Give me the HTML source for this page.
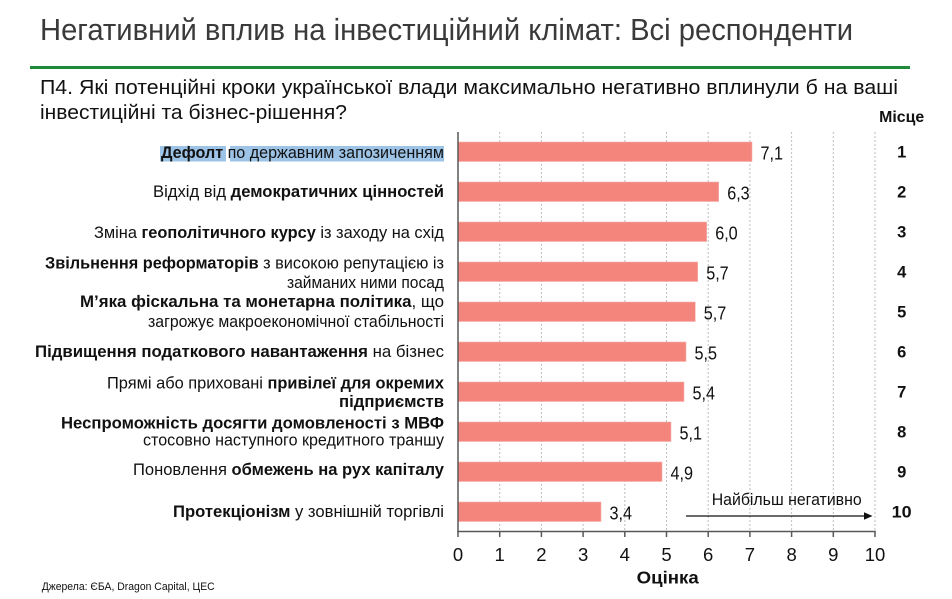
<!DOCTYPE html>
<html><head><meta charset="utf-8"><style>
html,body{margin:0;padding:0;background:#fff;}
svg{display:block;font-family:"Liberation Sans","DejaVu Sans",sans-serif;}
</style></head><body>
<svg width="952" height="599" viewBox="0 0 952 599" xmlns="http://www.w3.org/2000/svg">
<rect width="952" height="599" fill="#fff"/>
<text x="40" y="40" font-size="30.5" fill="#3a3a3a" textLength="813" lengthAdjust="spacingAndGlyphs">Негативний вплив на інвестиційний клімат: Всі респонденти</text>
<rect x="30" y="66" width="880" height="3" fill="#1e8b3c"/>
<text x="40" y="94" font-size="20.5" fill="#111" textLength="858" lengthAdjust="spacingAndGlyphs">П4. Які потенційні кроки української влади максимально негативно вплинули б на ваші</text>
<text x="40" y="119" font-size="20.5" fill="#111" textLength="307" lengthAdjust="spacingAndGlyphs">інвестиційні та бізнес-рішення?</text>
<text x="901.7" y="122" font-size="15.5" font-weight="bold" fill="#111" text-anchor="middle" textLength="45" lengthAdjust="spacingAndGlyphs">Місце</text>

<!-- gridlines -->
<g stroke="#bdbdbd" stroke-width="1" stroke-dasharray="2,2">
<line x1="499.7" y1="132" x2="499.7" y2="531"/>
<line x1="541.4" y1="132" x2="541.4" y2="531"/>
<line x1="583.1" y1="132" x2="583.1" y2="531"/>
<line x1="624.8" y1="132" x2="624.8" y2="531"/>
<line x1="666.5" y1="132" x2="666.5" y2="531"/>
<line x1="708.2" y1="132" x2="708.2" y2="531"/>
<line x1="749.9" y1="132" x2="749.9" y2="531"/>
<line x1="791.6" y1="132" x2="791.6" y2="531"/>
<line x1="833.3" y1="132" x2="833.3" y2="531"/>
<line x1="875" y1="132" x2="875" y2="531"/>
</g>

<!-- highlight -->
<rect x="160" y="146" width="66" height="15.5" fill="#9dc3e6"/>
<rect x="230" y="146" width="214" height="15.5" fill="#9dc3e6"/>

<!-- labels -->
<g font-size="16.3" fill="#111" text-anchor="end">
<text x="444" y="158" textLength="283" lengthAdjust="spacingAndGlyphs"><tspan font-weight="bold">Дефолт</tspan> по державним запозиченням</text>
<text x="444" y="197" textLength="291" lengthAdjust="spacingAndGlyphs">Відхід від <tspan font-weight="bold">демократичних цінностей</tspan></text>
<text x="444" y="238" textLength="350" lengthAdjust="spacingAndGlyphs">Зміна <tspan font-weight="bold">геополітичного курсу</tspan> із заходу на схід</text>
<text x="444" y="268.5" textLength="399" lengthAdjust="spacingAndGlyphs"><tspan font-weight="bold">Звільнення реформаторів</tspan> з високою репутацією із</text>
<text x="444" y="288" textLength="157" lengthAdjust="spacingAndGlyphs">займаних ними посад</text>
<text x="444" y="307" textLength="364" lengthAdjust="spacingAndGlyphs"><tspan font-weight="bold">М’яка фіскальна та монетарна політика</tspan>, що</text>
<text x="444" y="327" textLength="296" lengthAdjust="spacingAndGlyphs">загрожує макроекономічної стабільності</text>
<text x="444" y="357" textLength="409" lengthAdjust="spacingAndGlyphs"><tspan font-weight="bold">Підвищення податкового навантаження</tspan> на бізнес</text>
<text x="444" y="388.5" textLength="337" lengthAdjust="spacingAndGlyphs">Прямі або приховані <tspan font-weight="bold">привілеї для окремих</tspan></text>
<text x="444" y="407" textLength="105" lengthAdjust="spacingAndGlyphs" font-weight="bold">підприємств</text>
<text x="444" y="428.5" textLength="383" lengthAdjust="spacingAndGlyphs" font-weight="bold">Неспроможність досягти домовленості з МВФ</text>
<text x="444" y="445.5" textLength="301" lengthAdjust="spacingAndGlyphs">стосовно наступного кредитного траншу</text>
<text x="444" y="475" textLength="311" lengthAdjust="spacingAndGlyphs">Поновлення <tspan font-weight="bold">обмежень на рух капіталу</tspan></text>
<text x="444" y="517" textLength="271" lengthAdjust="spacingAndGlyphs"><tspan font-weight="bold">Протекціонізм</tspan> у зовнішній торгівлі</text>
</g>

<!-- bars -->
<g fill="#f4857d" stroke="#f8b3ad" stroke-width="0.6">
<rect x="458" y="142" width="294" height="19.5"/>
<rect x="458" y="182" width="260.7" height="19.5"/>
<rect x="458" y="222" width="248.7" height="19.5"/>
<rect x="458" y="262" width="239.7" height="19.5"/>
<rect x="458" y="302" width="237.3" height="19.5"/>
<rect x="458" y="342" width="228" height="19.5"/>
<rect x="458" y="382" width="226" height="19.5"/>
<rect x="458" y="422" width="213" height="19.5"/>
<rect x="458" y="462" width="204" height="19.5"/>
<rect x="458" y="502" width="143" height="19.5"/>
</g>

<!-- values -->
<g font-size="18.5" fill="#111">
<text x="760.5" y="159.5" textLength="22.5" lengthAdjust="spacingAndGlyphs">7,1</text>
<text x="727.2" y="199.5" textLength="22.5" lengthAdjust="spacingAndGlyphs">6,3</text>
<text x="715.2" y="239.5" textLength="22.5" lengthAdjust="spacingAndGlyphs">6,0</text>
<text x="706.2" y="279.5" textLength="22.5" lengthAdjust="spacingAndGlyphs">5,7</text>
<text x="703.8" y="319.5" textLength="22.5" lengthAdjust="spacingAndGlyphs">5,7</text>
<text x="694.5" y="359.5" textLength="22.5" lengthAdjust="spacingAndGlyphs">5,5</text>
<text x="692.5" y="399.5" textLength="22.5" lengthAdjust="spacingAndGlyphs">5,4</text>
<text x="679.5" y="439.5" textLength="22.5" lengthAdjust="spacingAndGlyphs">5,1</text>
<text x="670.5" y="479.5" textLength="22.5" lengthAdjust="spacingAndGlyphs">4,9</text>
<text x="609.5" y="519.5" textLength="22.5" lengthAdjust="spacingAndGlyphs">3,4</text>
</g>

<!-- ranks -->
<g font-size="16.5" font-weight="bold" fill="#111" text-anchor="middle">
<text x="901.7" y="157.5">1</text>
<text x="901.7" y="197.5">2</text>
<text x="901.7" y="237.5">3</text>
<text x="901.7" y="277.5">4</text>
<text x="901.7" y="317.5">5</text>
<text x="901.7" y="357.5">6</text>
<text x="901.7" y="397.5">7</text>
<text x="901.7" y="437.5">8</text>
<text x="901.7" y="477.5">9</text>
<text x="901.7" y="517.5" textLength="20" lengthAdjust="spacingAndGlyphs">10</text>
</g>

<!-- axes -->
<g stroke="#595959" stroke-width="1.5">
<line x1="458" y1="132" x2="458" y2="531.5"/>
<line x1="457.3" y1="531.5" x2="875.7" y2="531.5"/>
<line x1="458" y1="531" x2="458" y2="537"/>
<line x1="499.7" y1="531" x2="499.7" y2="537"/>
<line x1="541.4" y1="531" x2="541.4" y2="537"/>
<line x1="583.1" y1="531" x2="583.1" y2="537"/>
<line x1="624.8" y1="531" x2="624.8" y2="537"/>
<line x1="666.5" y1="531" x2="666.5" y2="537"/>
<line x1="708.2" y1="531" x2="708.2" y2="537"/>
<line x1="749.9" y1="531" x2="749.9" y2="537"/>
<line x1="791.6" y1="531" x2="791.6" y2="537"/>
<line x1="833.3" y1="531" x2="833.3" y2="537"/>
<line x1="875" y1="531" x2="875" y2="537"/>
</g>
<g font-size="18.5" fill="#111" text-anchor="middle">
<text x="458" y="561">0</text>
<text x="499.7" y="561">1</text>
<text x="541.4" y="561">2</text>
<text x="583.1" y="561">3</text>
<text x="624.8" y="561">4</text>
<text x="666.5" y="561">5</text>
<text x="708.2" y="561">6</text>
<text x="749.9" y="561">7</text>
<text x="791.6" y="561">8</text>
<text x="833.3" y="561">9</text>
<text x="875" y="561">10</text>
</g>
<text x="667.7" y="583.5" font-size="17.5" font-weight="bold" fill="#111" text-anchor="middle" textLength="62" lengthAdjust="spacingAndGlyphs">Оцінка</text>

<!-- annotation -->
<text x="711.7" y="505" font-size="16.5" fill="#111" textLength="150" lengthAdjust="spacingAndGlyphs">Найбільш негативно</text>
<line x1="686" y1="516" x2="866" y2="516" stroke="#111" stroke-width="1.3"/>
<polygon points="864,512.3 872.5,516 864,519.7" fill="#111"/>

<!-- footer -->
<text x="41.7" y="590" font-size="11" fill="#111" textLength="173" lengthAdjust="spacingAndGlyphs">Джерела: ЄБА, Dragon Capital, ЦЕС</text>
</svg>
</body></html>
